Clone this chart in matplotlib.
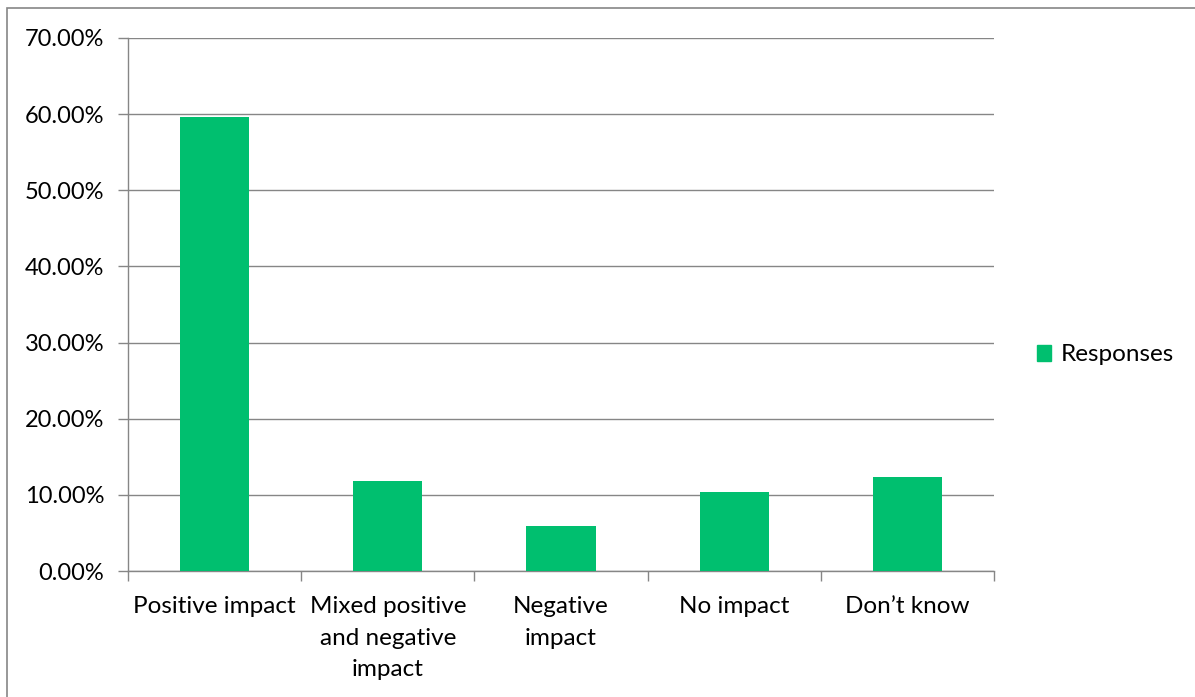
import matplotlib.pyplot as plt
import matplotlib.ticker as ticker
from matplotlib.patches import Rectangle, Patch

categories = ["Positive impact", "Mixed positive\nand negative\nimpact",
              "Negative\nimpact", "No impact", "Don\u2019t know"]
responses = [59.6, 11.8, 5.9, 10.4, 12.3]
y_ticks = [0, 10, 20, 30, 40, 50, 60, 70]

VERDE = "#00BF6F"
CINZA = "#868686"

plt.rcParams["font.family"] = ["Lato", "DejaVu Sans"]

fig = plt.figure(figsize=(11.95, 6.97), dpi=100)
ax = fig.add_axes([128 / 1195, 1 - 571 / 697, (994 - 128) / 1195, (571 - 38) / 697])

# moldura externa do gráfico (cortada à direita e embaixo)
fig.patches.append(Rectangle((7 / 1195, -0.05), 1.1, 1 - 8 / 697 + 0.05,
                             transform=fig.transFigure, fill=False,
                             edgecolor=CINZA, linewidth=1.2))

x = range(len(categories))
ax.bar(x, responses, width=0.4, color=VERDE, zorder=3)

ax.set_xlim(-0.5, len(categories) - 0.5)
ax.set_ylim(0, 70)
ax.set_yticks(y_ticks)
ax.yaxis.set_major_formatter(ticker.FuncFormatter(lambda v, _: f"{v:.2f}%"))
ax.grid(axis="y", color=CINZA, linewidth=1.0, zorder=0)

# marcas nas divisões entre categorias, rótulos no centro
ax.set_xticks([i - 0.5 for i in range(len(categories) + 1)])
ax.set_xticklabels([])
ax.set_xticks(list(x), minor=True)
ax.set_xticklabels(categories, minor=True, fontsize=17.5, linespacing=1.62)
ax.tick_params(axis="x", which="major", length=7, color=CINZA, width=1)
ax.tick_params(axis="x", which="minor", length=0, pad=18)
ax.tick_params(axis="y", length=7, color=CINZA, width=1, labelsize=17, pad=10)

for s in ["top", "right"]:
    ax.spines[s].set_visible(False)
for s in ["left", "bottom"]:
    ax.spines[s].set_color(CINZA)
    ax.spines[s].set_linewidth(1.0)

fig.legend(handles=[Patch(color=VERDE, label="Responses")],
           loc="center left", bbox_to_anchor=(1015 / 1195, 1 - 355 / 697),
           frameon=False, fontsize=17.5, handlelength=0.6, handleheight=0.6,
           handletextpad=0.4)

plt.savefig("out.png", dpi=100)
plt.close()
